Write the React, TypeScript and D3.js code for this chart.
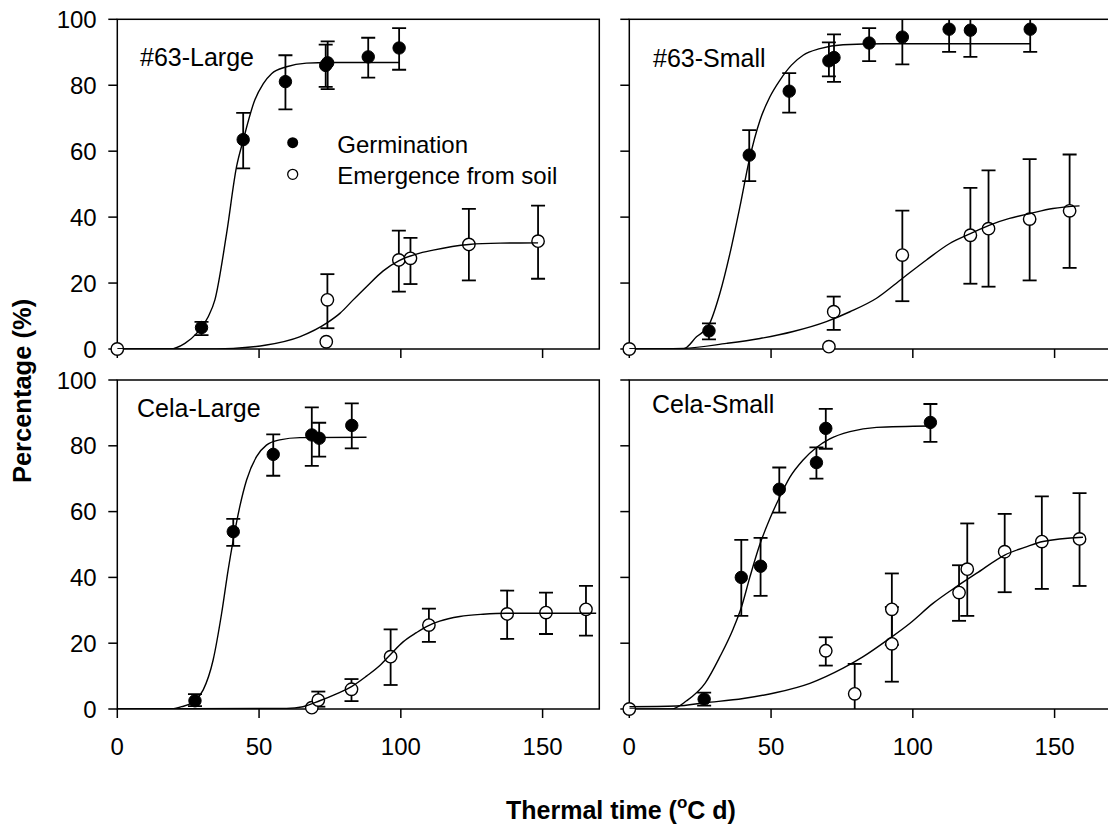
import React from "react";
import * as d3 from "d3";

// ---------- data ----------
const xTicks = [0, 50, 100, 150];
const yTicks = [0, 20, 40, 60, 80, 100];
const panelLabels = ["#63-Large", "#63-Small", "Cela-Large", "Cela-Small"];
const legendLabels = ["Germination", "Emergence from soil"];
const xTitle = ["Thermal time (", "o", "C d)"];
const yTitle = "Percentage (%)";

type Pt = [number, number, number | null, number | null]; // x, y, lower, upper
type CP = [number, number];

// #63-Large
const germ63L: Pt[] = [
  [29.7, 6.5, 4.2, 8.2], [44.4, 63.5, 54.8, 71.6], [59.3, 81.1, 72.7, 89.1],
  [73.5, 86.0, 79.5, 92.3], [74.2, 86.8, 78.8, 93.3], [88.5, 88.6, 82.3, 94.4],
  [99.4, 91.3, 84.7, 97.3],
];
const germ63LFit: CP[] = [
  [0, 0], [18.6, 0], [23.85, 1.7], [27.97, 4.75], [32.07, 9.8], [34.42, 14.9], [38.54, 35.0],
  [42.06, 55.3], [44.4, 63.3], [48.5, 75.5], [51.5, 80.5], [54.4, 83.5], [59.7, 85.6],
  [66.7, 86.7], [75, 86.9], [99.4, 86.9],
];
const emer63L: Pt[] = [
  [0, 0, null, null], [74.1, 14.9, 6.3, 22.7], [73.7, 2.2, null, null],
  [99.3, 27.0, 17.4, 35.9], [103.4, 27.5, 19.7, 33.7], [124.0, 31.7, 20.8, 42.5],
  [148.4, 32.7, 21.3, 43.5],
];
const emer63LFit: CP[] = [
  [0, 0], [29.1, 0], [40.9, 0.2], [52.6, 1.2], [64.3, 3.7], [74.1, 8.0], [78.5, 10.8],
  [83.2, 14.9], [87.9, 18.9], [93.8, 23.7], [99.4, 26.8], [105.5, 28.8], [111.4, 30.0],
  [124.0, 31.7], [135, 32.1], [148.4, 32.2],
];

// #63-Small
const germ63S: Pt[] = [
  [28.1, 5.5, 2.9, 7.8], [42.3, 58.8, 50.9, 66.4], [56.4, 78.2, 71.7, 83.7],
  [70.4, 87.4, 82.7, 93.0], [72.2, 88.4, 81.0, 95.4], [84.6, 92.8, 87.3, 97.3],
  [96.3, 94.6, 86.3, 103], [112.8, 97.0, 90.1, 104], [120.3, 96.7, 88.6, 104],
  [141.4, 97.0, 90.1, 104],
];
const germ63SFit: CP[] = [
  [0, 0], [19.0, 0], [23.7, 3.7], [28.1, 7.3], [31.96, 16.9], [35.5, 29.0], [39.0, 43.1],
  [42.3, 57.3], [46.1, 69.4], [49.6, 76.5], [53.1, 81.5], [57.2, 86.1], [61.3, 89.1],
  [67.2, 91.1], [75.4, 92.3], [90, 92.6], [141.4, 92.6],
];
const emer63S: Pt[] = [
  [0, 0, null, null], [70.4, 0.7, null, null], [72.1, 11.3, 5.8, 15.9],
  [96.3, 28.5, 14.5, 42.0], [120.3, 34.5, 19.8, 48.9], [126.7, 36.5, 18.9, 54.2],
  [141.2, 39.4, 20.8, 57.6], [155.3, 41.9, 24.6, 59.0],
];
const emer63SFit: CP[] = [
  [0, 0], [19.0, 0.2], [34.3, 1.7], [46.1, 3.2], [57.8, 5.3], [69.5, 8.3], [77.8, 11.3],
  [87.2, 15.4], [96.3, 21.4], [104.8, 27.0], [113.0, 32.0], [120.3, 35.0], [127.1, 37.6],
  [134.1, 39.6], [141.4, 41.1], [149.4, 42.6], [158.8, 43.4],
];

// Cela-Large
const germCL: Pt[] = [
  [27.4, 2.5, 0.9, 4.5], [40.9, 53.9, 49.6, 57.8], [55.0, 77.4, 70.9, 83.5],
  [68.6, 83.3, 73.9, 91.7], [71.2, 82.3, 76.7, 87.0], [82.7, 86.2, 79.2, 92.9],
];
const germCLFit: CP[] = [
  [0, 0], [18.6, 0], [22.7, 0.7], [27.4, 2.5], [30.3, 5.8], [33.8, 14.9], [36.8, 29.1],
  [39.1, 42.3], [40.9, 51.4], [43.2, 61.5], [45.6, 69.6], [49.1, 76.7], [52.6, 80.2],
  [57.3, 81.8], [64.4, 82.5], [87.9, 82.6],
];
const emerCL: Pt[] = [
  [68.6, 0.4, null, null], [70.9, 2.7, 0.7, 5.3], [82.6, 6.0, 2.4, 9.1],
  [96.4, 15.9, 7.3, 24.2], [109.9, 25.5, 20.4, 30.5], [137.5, 28.9, 21.3, 36.0],
  [151.2, 29.3, 22.8, 35.4], [165.3, 30.3, 22.3, 37.4],
];
const emerCLFit: CP[] = [
  [0, 0], [59.7, 0.2], [65.5, 0.7], [71.4, 2.5], [77.3, 4.6], [82.6, 6.8], [87.9, 10.0],
  [92.6, 13.2], [96.7, 16.9], [100.8, 20.4], [105.5, 23.2], [109.6, 25.3], [113.7, 26.7],
  [120.8, 28.1], [129.0, 28.8], [137.2, 29.1], [168.9, 29.1],
];

// Cela-Small
const germCS: Pt[] = [
  [26.4, 3.0, 1.0, 5.0], [39.5, 40.0, 28.3, 51.4], [46.3, 43.4, 34.4, 52.0],
  [52.9, 66.8, 59.7, 73.4], [66.0, 74.9, 70.0, 79.5], [69.3, 85.3, 79.1, 91.2],
  [106.2, 87.1, 81.2, 92.7],
];
const germCSFit: CP[] = [
  [0, 0], [14.9, 0], [20.2, 2.5], [26.7, 7.8], [31.96, 15.9], [36.7, 24.5], [39.6, 31.1],
  [42.5, 40.0], [46.0, 49.9], [49.6, 57.9], [53.1, 64.5], [56.6, 70.4], [61.3, 75.7],
  [66.0, 79.5], [70.7, 82.1], [77.8, 84.3], [87.2, 85.6], [106.0, 86.0],
];
const emerCS: Pt[] = [
  [0, 0, null, null], [69.3, 17.7, 13.2, 21.8], [79.5, 4.6, -1, 13.7],
  [92.6, 30.3, 19.5, 41.2], [92.6, 19.8, 8.3, 31.0], [116.3, 35.4, 26.8, 43.7],
  [119.2, 42.5, 28.3, 56.4], [132.4, 47.8, 35.5, 59.3], [145.5, 50.9, 36.5, 64.6],
  [158.8, 51.7, 37.4, 65.6],
];
const emerCSFit: CP[] = [
  [0, 0.7], [16.7, 0.9], [26.7, 1.9], [40.2, 3.2], [51.9, 5.0], [63.7, 7.8], [75.4, 12.4],
  [82.5, 15.9], [91.9, 21.5], [98.9, 26.0], [107.1, 32.1], [115.4, 37.2], [122.4, 41.2],
  [132.4, 46.8], [140.0, 49.3], [145.9, 50.9], [160.0, 52.2],
];

const panelData = [
  { germ: germ63L, germFit: germ63LFit, emer: emer63L, emerFit: emer63LFit },
  { germ: germ63S, germFit: germ63SFit, emer: emer63S, emerFit: emer63SFit },
  { germ: germCL, germFit: germCLFit, emer: emerCL, emerFit: emerCLFit },
  { germ: germCS, germFit: germCSFit, emer: emerCS, emerFit: emerCSFit },
];

// ---------- layout ----------
const W = 1108;
const H = 830;
const FONT = "'Liberation Sans', Arial, Helvetica, sans-serif";
const frames = [
  { x0: 117.3, x1: 599.3, yTop: 19.3, yBot: 349, lx: 140, ly: 66, yLabels: true, xLabels: false },
  { x0: 629.3, x1: 1111.3, yTop: 19.3, yBot: 349, lx: 653, ly: 67, yLabels: false, xLabels: false },
  { x0: 117.3, x1: 599.3, yTop: 380, yBot: 709, lx: 137, ly: 417, yLabels: true, xLabels: true },
  { x0: 629.3, x1: 1111.3, yTop: 380, yBot: 709, lx: 652, ly: 413, yLabels: false, xLabels: true },
];
const R = 6.2;
const CAP = 7;

function Panel({ i }: { i: number }) {
  const f = frames[i];
  const d = panelData[i];
  const x = d3.scaleLinear().domain([0, 170]).range([f.x0, f.x1]);
  const y = d3.scaleLinear().domain([0, 100]).range([f.yBot, f.yTop]);
  const line = d3
    .line<CP>()
    .x((p) => x(p[0]))
    .y((p) => y(p[1]))
    .curve(d3.curveMonotoneX);
  const clipId = `clip-${i}`;
  const bars = (pts: Pt[], key: string) =>
    pts
      .filter((p) => p[2] !== null && p[3] !== null)
      .map((p, j) => {
        const cx = x(p[0]);
        const lo = y(p[2] as number);
        const hi = y(p[3] as number);
        return (
          <g key={`${key}-${j}`} stroke="#000" strokeWidth={1.8}>
            <line x1={cx} x2={cx} y1={lo} y2={hi} />
            <line x1={cx - CAP} x2={cx + CAP} y1={lo} y2={lo} />
            <line x1={cx - CAP} x2={cx + CAP} y1={hi} y2={hi} />
          </g>
        );
      });
  return (
    <g>
      <defs>
        <clipPath id={clipId}>
          <rect x={f.x0} y={f.yTop} width={f.x1 - f.x0} height={f.yBot - f.yTop} />
        </clipPath>
      </defs>
      {/* frame */}
      <rect
        x={f.x0}
        y={f.yTop}
        width={f.x1 - f.x0}
        height={f.yBot - f.yTop}
        fill="none"
        stroke="#000"
        strokeWidth={1.5}
      />
      {/* y ticks */}
      {yTicks.map((t) => (
        <g key={`yt${t}`}>
          <line x1={f.x0 - 9} x2={f.x0} y1={y(t)} y2={y(t)} stroke="#000" strokeWidth={1.5} />
          {f.yLabels && (
            <text
              x={96.7}
              y={y(t)}
              dy="0.36em"
              textAnchor="end"
              fontFamily={FONT}
              fontSize={24}
              fill="#000"
            >
              {t}
            </text>
          )}
        </g>
      ))}
      {/* x ticks */}
      {xTicks.map((t) => (
        <g key={`xt${t}`}>
          <line x1={x(t)} x2={x(t)} y1={f.yBot} y2={f.yBot + 9} stroke="#000" strokeWidth={1.5} />
          {f.xLabels && (
            <text
              x={x(t)}
              y={755}
              textAnchor="middle"
              fontFamily={FONT}
              fontSize={24}
              fill="#000"
            >
              {t}
            </text>
          )}
        </g>
      ))}
      {/* panel label */}
      <text x={f.lx} y={f.ly} fontFamily={FONT} fontSize={25} fill="#000">
        {panelLabels[i]}
      </text>
      {/* error bars */}
      <g clipPath={`url(#${clipId})`}>
        {bars(d.germ, "g")}
        {bars(d.emer, "e")}
      </g>
      {/* markers */}
      {d.emer.map((p, j) => (
        <circle
          key={`em${j}`}
          cx={x(p[0])}
          cy={y(p[1])}
          r={R}
          fill="#fff"
          stroke="#000"
          strokeWidth={1.4}
        />
      ))}
      {d.germ.map((p, j) => (
        <circle key={`gm${j}`} cx={x(p[0])} cy={y(p[1])} r={R} fill="#000" stroke="#000" strokeWidth={1} />
      ))}
      {/* fitted curves */}
      <g clipPath={`url(#${clipId})`}>
        <path d={line(d.germFit) || ""} fill="none" stroke="#000" strokeWidth={1.4} />
        <path d={line(d.emerFit) || ""} fill="none" stroke="#000" strokeWidth={1.4} />
      </g>
    </g>
  );
}

export default function App() {
  return (
    <svg
      width={W}
      height={H}
      viewBox={`0 0 ${W} ${H}`}
      style={{ position: "absolute", left: 0, top: 0, background: "#fff" }}
    >
      <rect x={0} y={0} width={W} height={H} fill="#fff" />
      {frames.map((_, i) => (
        <Panel key={i} i={i} />
      ))}
      {/* legend */}
      <circle cx={292.7} cy={142.7} r={5.5} fill="#000" />
      <circle cx={292.7} cy={174.3} r={5} fill="#fff" stroke="#000" strokeWidth={1.3} />
      <text x={337.3} y={153.3} fontFamily={FONT} fontSize={24} fill="#000">
        {legendLabels[0]}
      </text>
      <text x={337.3} y={184.3} fontFamily={FONT} fontSize={24} fill="#000">
        {legendLabels[1]}
      </text>
      {/* axis titles */}
      <text
        transform="translate(31,391) rotate(-90)"
        textAnchor="middle"
        fontFamily={FONT}
        fontSize={25.5}
        fontWeight="bold"
        fill="#000"
      >
        {yTitle}
      </text>
      <text x={506} y={819} fontFamily={FONT} fontSize={25} fontWeight="bold" fill="#000">
        {xTitle[0]}
        <tspan fontSize={17} dy={-11}>
          {xTitle[1]}
        </tspan>
        <tspan dy={11}>{xTitle[2]}</tspan>
      </text>
    </svg>
  );
}
